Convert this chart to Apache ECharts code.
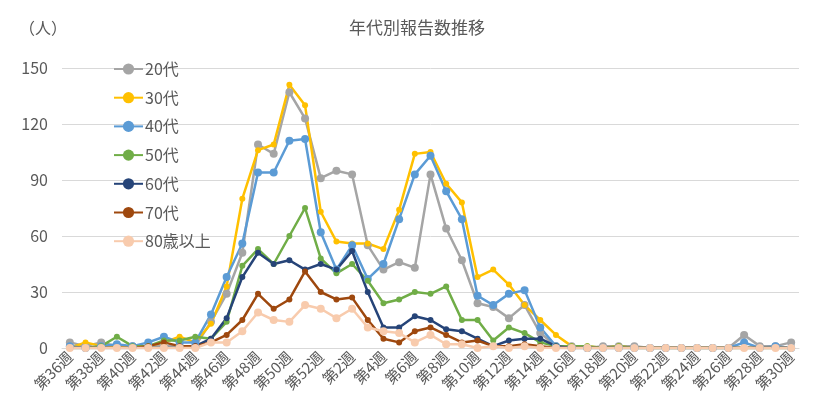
<!DOCTYPE html>
<html>
<head>
<meta charset="utf-8">
<script src="https://cdn.jsdelivr.net/npm/echarts@6/dist/echarts.min.js"></script>
<style>
  html, body { margin: 0; padding: 0; background: #fff; }
  #chart { width: 834px; height: 415px; }
</style>
</head>
<body>
<div id="chart"></div>
<script>
// 週ラベル (第36週 〜 第52週, 第1週 〜 第30週)
var weeks = [];
for (var w = 36; w <= 52; w++) weeks.push('第' + w + '週');
for (var w2 = 1; w2 <= 30; w2++) weeks.push('第' + w2 + '週');

var age20 = [3, 1, 3, 1, 1, 1, 1, 1, 1, 14, 29, 51, 109, 104, 137, 123, 91,
             95, 93, 55, 42, 46, 43, 93, 64, 47, 24, 22, 16, 23, 8, 1, 1, 0, 1, 1, 1, 0, 0, 0, 0, 0, 0, 7, 1, 1, 3];
var age30 = [0, 3, 1, 1, 1, 1, 3, 6, 3, 13, 33, 80, 106, 109, 141, 130, 73,
             57, 56, 56, 53, 74, 104, 105, 88, 78, 38, 42, 34, 23, 15, 7, 1, 1, 0, 1, 0, 0, 0, 0, 0, 0, 0, 0, 0, 0, 0];
var age40 = [1, 0, 1, 2, 1, 3, 6, 3, 3, 18, 38, 56, 94, 94, 111, 112, 62,
             42, 55, 37, 45, 69, 93, 103, 84, 69, 28, 23, 29, 31, 11, 1, 0, 0, 0, 0, 0, 0, 0, 0, 0, 0, 0, 3, 0, 1, 0];
var age50 = [0, 0, 1, 6, 1, 1, 4, 4, 6, 5, 14, 44, 53, 45, 60, 75, 48,
             40, 45, 36, 24, 26, 30, 29, 33, 15, 15, 4, 11, 8, 3, 1, 1, 1, 0, 1, 0, 0, 0, 0, 0, 0, 0, 0, 0, 0, 0];
var age60 = [0, 0, 0, 0, 0, 0, 0, 0, 1, 5, 16, 38, 51, 45, 47, 42, 45,
             42, 52, 30, 11, 11, 17, 15, 10, 9, 5, 1, 4, 5, 5, 1, 0, 0, 0, 0, 0, 0, 0, 0, 0, 0, 0, 0, 0, 0, 0];
var age70 = [0, 0, 0, 0, 0, 1, 3, 1, 1, 3, 7, 15, 29, 21, 26, 41, 30,
             26, 27, 15, 5, 3, 9, 11, 7, 3, 4, 1, 1, 2, 1, 0, 0, 0, 0, 0, 0, 0, 0, 0, 0, 0, 0, 0, 0, 0, 0];
var age80 = [0, 0, 0, 0, 0, 0, 0, 0, 0, 3, 3, 9, 19, 15, 14, 23, 21,
             16, 21, 11, 9, 8, 3, 7, 2, 2, 0, 1, 0, 1, 0, 0, 0, 0, 0, 0, 0, 0, 0, 0, 0, 0, 0, 0, 0, 0, 0];

var seriesNames = ['20代', '30代', '40代', '50代', '60代', '70代', '80歳以上'];
var seriesData = [age20, age30, age40, age50, age60, age70, age80];
var seriesColors = ['#A5A5A5', '#FFC000', '#5B9BD5', '#70AD47', '#264478', '#9E480E', '#F8CBAD'];
var markerSizes = [8, 6, 8, 6, 6, 6, 8];

var textColor = '#595959';
var fontFamily = '"Noto Sans CJK JP", "Noto Sans", sans-serif';

var series = [];
for (var i = 0; i < seriesNames.length; i++) {
  series.push({
    name: seriesNames[i],
    type: 'line',
    data: seriesData[i],
    symbol: 'circle',
    symbolSize: markerSizes[i],
    showAllSymbol: true,
    lineStyle: { width: 2.5, color: seriesColors[i] },
    itemStyle: { color: seriesColors[i] },
    emphasis: { disabled: true },
    animation: false
  });
}

var chart = echarts.init(document.getElementById('chart'));
chart.setOption({
  textStyle: { fontFamily: fontFamily },
  color: seriesColors,
  title: {
    text: '年代別報告数推移',
    left: 'center',
    top: 14,
    textStyle: { fontSize: 17, fontWeight: 'normal', color: textColor, fontFamily: fontFamily }
  },
  legend: {
    orient: 'vertical',
    left: 108,
    top: 56,
    itemWidth: 29,
    itemHeight: 14,
    itemGap: 12.7,
    data: seriesNames,
    textStyle: { fontSize: 16, color: textColor, padding: [0, 0, 0, -3] }
  },
  graphic: [{
    type: 'text',
    left: 19,
    top: 20,
    style: { text: '（人）', fontSize: 16, fill: textColor, fontFamily: fontFamily }
  }],
  grid: { left: 62, right: 35, top: 68, bottom: 67, containLabel: false },
  xAxis: {
    type: 'category',
    data: weeks,
    boundaryGap: true,
    axisLine: { lineStyle: { color: '#D9D9D9', width: 1 } },
    axisTick: { show: false },
    axisLabel: {
      interval: 1,
      rotate: 45,
      fontSize: 15,
      color: textColor,
      margin: 6
    }
  },
  yAxis: {
    type: 'value',
    min: 0,
    max: 150,
    interval: 30,
    axisLine: { show: false },
    axisTick: { show: false },
    splitLine: { lineStyle: { color: '#D9D9D9', width: 1 } },
    axisLabel: { fontSize: 16, color: textColor, margin: 14 }
  },
  series: series
});
</script>
</body>
</html>
